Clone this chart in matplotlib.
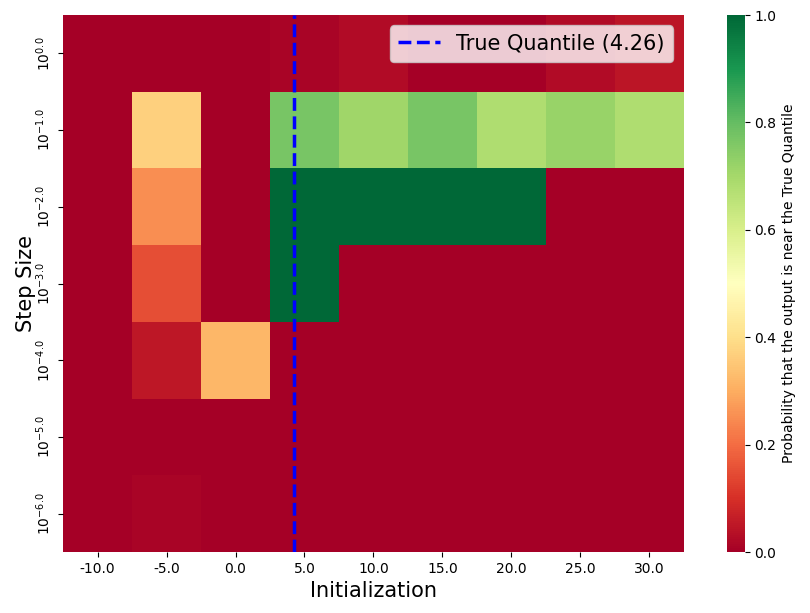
import numpy as np
import matplotlib
matplotlib.use("Agg")
import matplotlib.pyplot as plt
import seaborn as sns

inits = [-10.0, -5.0, 0.0, 5.0, 10.0, 15.0, 20.0, 25.0, 30.0]
log_steps = [0.0, -1.0, -2.0, -3.0, -4.0, -5.0, -6.0]
true_q = 4.26

# rows = step size, cols = initialization
probs = np.array([
    [0.00, 0.00, 0.00, 0.01, 0.025, 0.00, 0.00, 0.025, 0.045],
    [0.00, 0.37, 0.00, 0.77, 0.71, 0.77, 0.68, 0.72, 0.68],
    [0.00, 0.25, 0.00, 1.00, 1.00, 1.00, 1.00, 0.00, 0.00],
    [0.00, 0.15, 0.00, 1.00, 0.00, 0.00, 0.00, 0.00, 0.00],
    [0.00, 0.05, 0.32, 0.00, 0.00, 0.00, 0.00, 0.00, 0.00],
    [0.00, 0.00, 0.00, 0.00, 0.00, 0.00, 0.00, 0.00, 0.00],
    [0.00, 0.01, 0.00, 0.00, 0.00, 0.00, 0.00, 0.00, 0.00],
])

fig = plt.figure(figsize=(8.1, 6.13), dpi=100)
ax = fig.add_axes([0.078, 0.0995, 0.766, 0.876])
cax = fig.add_axes([0.8975, 0.0995, 0.022, 0.876])

xlabels = [str(v) for v in inits]
ylabels = ["$10^{%s}$" % str(v) for v in log_steps]
sns.heatmap(probs, ax=ax, cbar_ax=cax, cmap="RdYlGn", vmin=0, vmax=1,
            xticklabels=xlabels, yticklabels=ylabels,
            cbar_kws={"label": "Probability that the output is near the True Quantile"})

# map true quantile into heatmap column coordinates
xpos = (true_q - inits[0]) / (inits[1] - inits[0]) + 0.5
ax.axvline(xpos, color="blue", linestyle="--", linewidth=2.5,
           label="True Quantile (%.2f)" % true_q)
ax.legend(loc="upper right", fontsize=15)
ax.set_xlabel("Initialization", fontsize=15)
ax.set_ylabel("Step Size", fontsize=15, labelpad=-1)
plt.setp(ax.get_xticklabels(), rotation=0)
plt.setp(ax.get_yticklabels(), rotation=90, va="center")

fig.savefig("out.png", dpi=100)
